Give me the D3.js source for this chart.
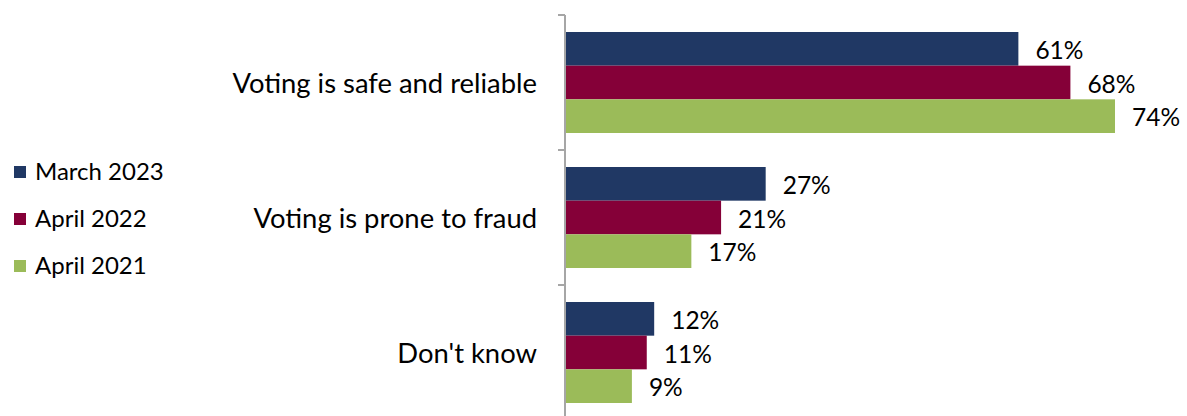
<!DOCTYPE html>
<html>
<head>
<meta charset="utf-8">
<script src="https://cdn.jsdelivr.net/npm/d3@7"></script>
<style>
  body { margin: 0; background: #fff; }
  text { font-family: Lato, "Open Sans", sans-serif; fill: #000; }
</style>
</head>
<body>
<svg id="chart" width="1187" height="416"></svg>
<script>
// chart data
const categories = ["Voting is safe and reliable", "Voting is prone to fraud", "Don't know"];
const seriesNames = ["March 2023", "April 2022", "April 2021"];
const march2023 = [61, 27, 12];
const april2022 = [68, 21, 11];
const april2021 = [74, 17, 9];
const seriesValues = [march2023, april2022, april2021];
const colors = ["#203864", "#850038", "#9bbb59"];

const svg = d3.select("#chart");

const margin = {left: 565, top: 15, bottom: 0};
const x = d3.scaleLinear().domain([0, 74]).range([margin.left, 1115]);

const y = d3.scaleBand()
  .domain(categories)
  .range([margin.top, 15 + 135 * 3]);

// inner scale for the 3 bars of each group
const y1 = d3.scaleBand()
  .domain(seriesNames)
  .range([17, 118]);

const rows = [];
categories.forEach((c, i) => {
  seriesNames.forEach((s, j) => {
    rows.push({cat: c, series: s, j: j, value: seriesValues[j][i]});
  });
});

svg.selectAll("rect.bar")
  .data(rows)
  .join("rect")
    .attr("class", "bar")
    .attr("x", x(0))
    .attr("y", d => y(d.cat) + y1(d.series))
    .attr("width", d => x(d.value) - x(0))
    .attr("height", y1.bandwidth())
    .attr("fill", d => colors[d.j]);

// value labels
svg.selectAll("text.val")
  .data(rows)
  .join("text")
    .attr("class", "val")
    .attr("x", d => x(d.value) + 17)
    .attr("y", d => y(d.cat) + y1(d.series) + y1.bandwidth() / 2 + 4)
    .attr("dominant-baseline", "middle")
    .style("font-size", "24.5px")
    .text(d => d.value + "%");

// category axis
const axis = svg.append("g")
  .attr("transform", `translate(${x(0)},0)`)
  .call(d3.axisLeft(y).tickSize(0).tickFormat(""));
axis.select(".domain").remove();
axis.append("line")
  .attr("y1", margin.top).attr("y2", 416)
  .attr("stroke", "#a6a6a6").attr("stroke-width", 2);
axis.selectAll(".sep")
  .data(categories)
  .join("line")
    .attr("class", "sep")
    .attr("x1", -7).attr("x2", 0)
    .attr("y1", d => y(d)).attr("y2", d => y(d))
    .attr("stroke", "#a6a6a6").attr("stroke-width", 2);

svg.selectAll("text.cat")
  .data(categories)
  .join("text")
    .attr("class", "cat")
    .attr("x", 537)
    .attr("y", d => y(d) + y.bandwidth() / 2 + 4)
    .attr("text-anchor", "end")
    .attr("dominant-baseline", "middle")
    .style("font-size", "27.4px")
    .text(d => d);

// legend
const legend = svg.selectAll("g.leg")
  .data(seriesNames)
  .join("g")
    .attr("class", "leg")
    .attr("transform", (d, i) => `translate(14,${172 + i * 47})`);
legend.append("rect")
  .attr("x", 0).attr("y", -6)
  .attr("width", 12).attr("height", 12)
  .attr("fill", (d, i) => colors[i]);
legend.append("text")
  .attr("x", 21).attr("y", 2)
  .attr("dominant-baseline", "middle")
  .style("font-size", "24px")
  .text(d => d);
</script>
</body>
</html>
